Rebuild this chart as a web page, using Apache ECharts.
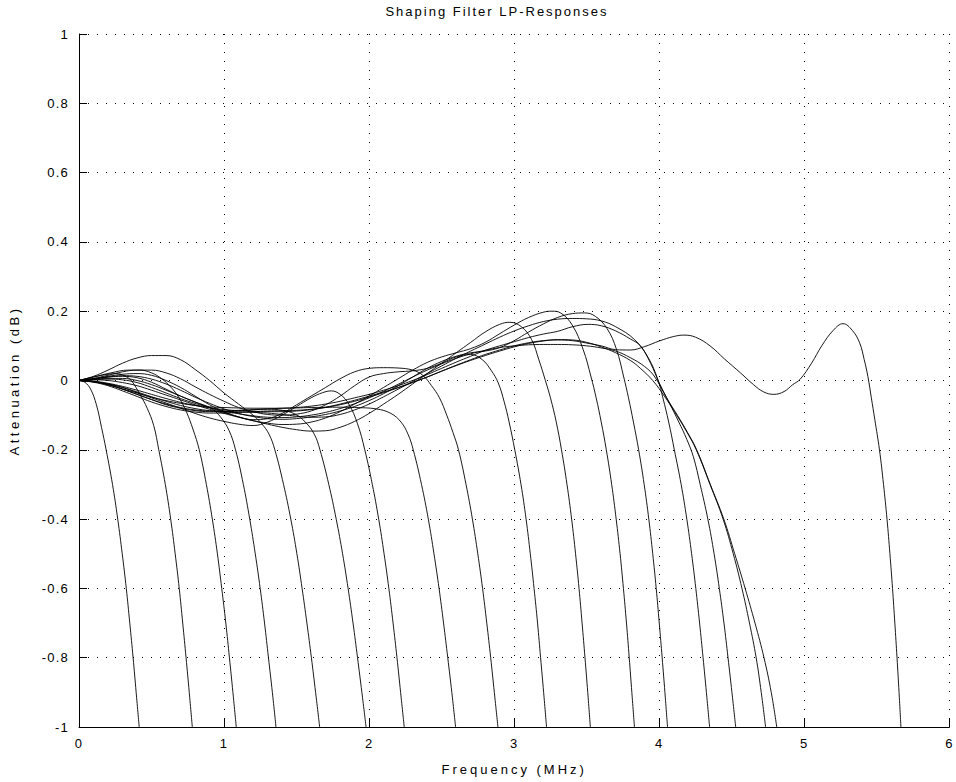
<!DOCTYPE html>
<html>
<head>
<meta charset="utf-8">
<script src="https://cdn.jsdelivr.net/npm/echarts@6/dist/echarts.min.js"></script>
<style>
html,body{margin:0;padding:0;background:#fff;}
#chart{width:956px;height:782px;}
</style>
</head>
<body>
<div id="chart"></div>
<script>
// Axis ticks
const xTicks = [0, 1, 2, 3, 4, 5, 6];
const yTicks = [-1, -0.8, -0.6, -0.4, -0.2, 0, 0.2, 0.4, 0.6, 0.8, 1];

// Curves: [frequency MHz, attenuation dB]
const c1 = [[0,0],[0.04,-0.005],[0.08,-0.025],[0.12,-0.07],[0.155,-0.135],[0.187,-0.2],[0.231,-0.3],[0.267,-0.4],[0.298,-0.5],[0.326,-0.6],[0.35,-0.7],[0.373,-0.8],[0.394,-0.9],[0.415,-1.0]];
const c2 = [[0,0],[0.1,0.01],[0.2,0.018],[0.26,0.02],[0.32,0.012],[0.36,0.0],[0.42,-0.04],[0.47,-0.08],[0.515,-0.13],[0.55,-0.2],[0.595,-0.3],[0.632,-0.4],[0.663,-0.5],[0.691,-0.6],[0.715,-0.7],[0.738,-0.8],[0.76,-0.9],[0.781,-1.0]];
const c3 = [[0,0],[0.1,0.01],[0.22,0.022],[0.34,0.03],[0.42,0.03],[0.5,0.022],[0.57,0.005],[0.635,-0.02],[0.69,-0.05],[0.74,-0.09],[0.785,-0.14],[0.829,-0.2],[0.878,-0.3],[0.919,-0.4],[0.954,-0.5],[0.984,-0.6],[1.012,-0.7],[1.037,-0.8],[1.061,-0.9],[1.084,-1.0]];
const c4 = [[0,0],[0.1,0.005],[0.2,0.01],[0.3,0.012],[0.4,0.008],[0.5,-0.005],[0.6,-0.025],[0.7,-0.045],[0.8,-0.062],[0.91,-0.08],[0.975,-0.105],[1.035,-0.145],[1.079,-0.2],[1.133,-0.3],[1.177,-0.4],[1.215,-0.5],[1.249,-0.6],[1.279,-0.7],[1.306,-0.8],[1.333,-0.9],[1.358,-1.0]];
const c5 = [[0,0],[0.1,0.012],[0.2,0.03],[0.3,0.05],[0.4,0.065],[0.5,0.072],[0.6,0.072],[0.7,0.06],[0.8,0.032],[0.9,0.0],[1.0,-0.036],[1.1,-0.068],[1.2,-0.1],[1.26,-0.125],[1.31,-0.155],[1.35,-0.2],[1.41,-0.3],[1.46,-0.4],[1.502,-0.5],[1.538,-0.6],[1.571,-0.7],[1.602,-0.8],[1.631,-0.9],[1.659,-1.0]];
const c6 = [[0,0],[0.1,-0.004],[0.2,-0.012],[0.3,-0.025],[0.4,-0.04],[0.5,-0.055],[0.6,-0.07],[0.7,-0.08],[0.8,-0.087],[0.9,-0.09],[1.0,-0.09],[1.1,-0.088],[1.2,-0.085],[1.3,-0.083],[1.4,-0.086],[1.49,-0.097],[1.56,-0.12],[1.622,-0.155],[1.661,-0.2],[1.722,-0.3],[1.773,-0.4],[1.817,-0.5],[1.855,-0.6],[1.889,-0.7],[1.92,-0.8],[1.95,-0.9],[1.979,-1.0]];
const c7 = [[0,0],[0.1,-0.003],[0.2,-0.01],[0.3,-0.02],[0.4,-0.035],[0.5,-0.05],[0.6,-0.065],[0.7,-0.08],[0.8,-0.095],[0.9,-0.108],[1.0,-0.118],[1.1,-0.126],[1.2,-0.13],[1.3,-0.12],[1.4,-0.1],[1.5,-0.075],[1.6,-0.05],[1.68,-0.035],[1.74,-0.03],[1.8,-0.04],[1.86,-0.068],[1.92,-0.125],[1.97,-0.2],[2.022,-0.3],[2.066,-0.4],[2.103,-0.5],[2.136,-0.6],[2.165,-0.7],[2.192,-0.8],[2.217,-0.9],[2.242,-1.0]];
const c8 = [[0,0],[0.1,-0.004],[0.2,-0.012],[0.3,-0.024],[0.4,-0.036],[0.5,-0.048],[0.6,-0.058],[0.7,-0.066],[0.8,-0.072],[0.9,-0.076],[1.0,-0.078],[1.2,-0.08],[1.4,-0.08],[1.6,-0.078],[1.8,-0.077],[1.9,-0.078],[2.05,-0.082],[2.15,-0.095],[2.22,-0.12],[2.268,-0.155],[2.304,-0.2],[2.361,-0.3],[2.408,-0.4],[2.447,-0.5],[2.482,-0.6],[2.513,-0.7],[2.542,-0.8],[2.57,-0.9],[2.596,-1.0]];
const c9 = [[0,0],[0.1,0.005],[0.2,0.012],[0.3,0.018],[0.4,0.02],[0.5,0.015],[0.6,0.0],[0.7,-0.02],[0.8,-0.045],[0.9,-0.07],[1.0,-0.09],[1.1,-0.105],[1.2,-0.113],[1.3,-0.11],[1.4,-0.095],[1.5,-0.07],[1.6,-0.045],[1.7,-0.02],[1.8,0.005],[1.9,0.025],[2.0,0.035],[2.1,0.037],[2.2,0.036],[2.3,0.03],[2.37,0.015],[2.43,-0.015],[2.485,-0.05],[2.535,-0.1],[2.578,-0.15],[2.616,-0.2],[2.668,-0.3],[2.712,-0.4],[2.749,-0.5],[2.782,-0.6],[2.811,-0.7],[2.838,-0.8],[2.863,-0.9],[2.888,-1.0]];
const c10 = [[0,0],[0.1,0.006],[0.2,0.015],[0.3,0.025],[0.4,0.03],[0.5,0.03],[0.6,0.022],[0.7,0.005],[0.8,-0.018],[0.9,-0.04],[1.0,-0.06],[1.1,-0.078],[1.2,-0.09],[1.3,-0.098],[1.4,-0.1],[1.5,-0.097],[1.6,-0.088],[1.7,-0.07],[1.8,-0.045],[1.9,-0.015],[2.0,0.01],[2.1,0.02],[2.2,0.025],[2.3,0.028],[2.4,0.035],[2.5,0.05],[2.6,0.068],[2.7,0.075],[2.78,0.06],[2.84,0.03],[2.89,-0.007],[2.93,-0.06],[2.965,-0.12],[3.004,-0.2],[3.047,-0.3],[3.082,-0.4],[3.111,-0.5],[3.137,-0.6],[3.161,-0.7],[3.182,-0.8],[3.203,-0.9],[3.223,-1.0]];
const c11 = [[0,0],[0.1,0.003],[0.2,0.006],[0.3,0.006],[0.4,0.0],[0.5,-0.012],[0.6,-0.028],[0.7,-0.045],[0.8,-0.062],[0.9,-0.078],[1.0,-0.092],[1.1,-0.105],[1.2,-0.116],[1.3,-0.126],[1.4,-0.135],[1.5,-0.142],[1.6,-0.146],[1.7,-0.145],[1.8,-0.135],[1.9,-0.118],[2.0,-0.095],[2.1,-0.068],[2.2,-0.04],[2.3,-0.01],[2.4,0.02],[2.5,0.05],[2.6,0.08],[2.7,0.11],[2.8,0.14],[2.9,0.162],[2.97,0.168],[3.05,0.155],[3.12,0.118],[3.17,0.06],[3.215,0.0],[3.25,-0.05],[3.29,-0.12],[3.326,-0.2],[3.364,-0.3],[3.396,-0.4],[3.423,-0.5],[3.447,-0.6],[3.468,-0.7],[3.488,-0.8],[3.507,-0.9],[3.525,-1.0]];
const c12 = [[0,0],[0.1,0.002],[0.2,0.0],[0.3,-0.006],[0.4,-0.015],[0.5,-0.028],[0.6,-0.042],[0.7,-0.056],[0.8,-0.07],[0.9,-0.083],[1.0,-0.095],[1.1,-0.106],[1.2,-0.116],[1.3,-0.123],[1.4,-0.127],[1.5,-0.126],[1.6,-0.12],[1.7,-0.108],[1.8,-0.09],[1.9,-0.068],[2.0,-0.045],[2.1,-0.02],[2.2,0.005],[2.3,0.03],[2.4,0.052],[2.5,0.068],[2.6,0.08],[2.7,0.092],[2.8,0.11],[2.9,0.135],[3.0,0.16],[3.1,0.182],[3.2,0.197],[3.26,0.2],[3.32,0.195],[3.4,0.16],[3.475,0.09],[3.53,0.01],[3.565,-0.05],[3.6,-0.12],[3.635,-0.2],[3.672,-0.3],[3.703,-0.4],[3.73,-0.5],[3.753,-0.6],[3.774,-0.7],[3.793,-0.8],[3.811,-0.9],[3.829,-1.0]];
const c13 = [[0,0],[0.1,0.004],[0.2,0.01],[0.3,0.014],[0.4,0.012],[0.5,0.004],[0.6,-0.01],[0.7,-0.028],[0.8,-0.048],[0.9,-0.066],[1.0,-0.082],[1.1,-0.095],[1.2,-0.104],[1.3,-0.11],[1.4,-0.112],[1.5,-0.11],[1.6,-0.105],[1.7,-0.098],[1.8,-0.088],[1.9,-0.075],[2.0,-0.058],[2.1,-0.038],[2.2,-0.015],[2.3,0.01],[2.4,0.035],[2.5,0.055],[2.6,0.07],[2.7,0.08],[2.8,0.085],[2.9,0.095],[3.0,0.115],[3.1,0.14],[3.2,0.163],[3.3,0.182],[3.4,0.193],[3.486,0.195],[3.56,0.185],[3.64,0.15],[3.705,0.09],[3.755,0.01],[3.788,-0.05],[3.822,-0.12],[3.858,-0.2],[3.896,-0.3],[3.928,-0.4],[3.955,-0.5],[3.979,-0.6],[4.0,-0.7],[4.02,-0.8],[4.039,-0.9],[4.057,-1.0]];
const c14 = [[0,0],[0.1,-0.003],[0.2,-0.01],[0.3,-0.02],[0.4,-0.033],[0.5,-0.047],[0.6,-0.06],[0.7,-0.072],[0.8,-0.081],[0.9,-0.087],[1.0,-0.09],[1.1,-0.091],[1.2,-0.092],[1.3,-0.094],[1.4,-0.098],[1.5,-0.103],[1.6,-0.106],[1.7,-0.105],[1.8,-0.098],[1.9,-0.085],[2.0,-0.068],[2.1,-0.047],[2.2,-0.025],[2.3,-0.003],[2.4,0.02],[2.5,0.042],[2.6,0.064],[2.7,0.085],[2.8,0.105],[2.9,0.125],[3.0,0.143],[3.1,0.158],[3.2,0.17],[3.3,0.177],[3.4,0.179],[3.5,0.178],[3.6,0.172],[3.7,0.155],[3.83,0.118],[3.925,0.065],[3.99,0.003],[4.025,-0.05],[4.065,-0.12],[4.104,-0.2],[4.151,-0.3],[4.19,-0.4],[4.223,-0.5],[4.252,-0.6],[4.278,-0.7],[4.302,-0.8],[4.325,-0.9],[4.347,-1.0]];
const c15 = [[0,0],[0.1,-0.003],[0.2,-0.012],[0.3,-0.025],[0.4,-0.04],[0.5,-0.055],[0.6,-0.068],[0.7,-0.078],[0.8,-0.085],[0.9,-0.088],[1.0,-0.088],[1.1,-0.086],[1.2,-0.084],[1.3,-0.082],[1.4,-0.08],[1.5,-0.078],[1.6,-0.074],[1.7,-0.068],[1.8,-0.06],[1.9,-0.05],[2.0,-0.04],[2.1,-0.028],[2.2,-0.015],[2.3,0.0],[2.4,0.017],[2.5,0.035],[2.6,0.053],[2.7,0.07],[2.8,0.087],[2.9,0.1],[3.0,0.112],[3.1,0.124],[3.2,0.134],[3.3,0.142],[3.4,0.155],[3.51,0.162],[3.6,0.158],[3.7,0.143],[3.8,0.12],[3.87,0.1],[3.94,0.05],[4.0,-0.007],[4.07,-0.065],[4.135,-0.12],[4.19,-0.17],[4.235,-0.22],[4.282,-0.3],[4.335,-0.4],[4.378,-0.5],[4.414,-0.6],[4.446,-0.7],[4.474,-0.8],[4.501,-0.9],[4.527,-1.0]];
const c16 = [[0,0],[0.1,-0.005],[0.2,-0.015],[0.3,-0.03],[0.4,-0.046],[0.5,-0.062],[0.6,-0.075],[0.7,-0.085],[0.8,-0.091],[0.9,-0.094],[1.0,-0.094],[1.1,-0.092],[1.2,-0.09],[1.3,-0.088],[1.4,-0.087],[1.5,-0.086],[1.6,-0.083],[1.7,-0.077],[1.8,-0.068],[1.9,-0.057],[2.0,-0.045],[2.1,-0.033],[2.2,-0.02],[2.3,-0.005],[2.4,0.01],[2.5,0.027],[2.6,0.043],[2.7,0.058],[2.8,0.072],[2.9,0.085],[3.0,0.097],[3.1,0.107],[3.2,0.114],[3.3,0.118],[3.4,0.117],[3.5,0.11],[3.6,0.097],[3.7,0.08],[3.8,0.058],[3.87,0.035],[3.955,0.0],[4.035,-0.045],[4.105,-0.09],[4.185,-0.145],[4.255,-0.2],[4.35,-0.3],[4.44,-0.4],[4.51,-0.5],[4.57,-0.6],[4.622,-0.7],[4.668,-0.8],[4.703,-0.9],[4.733,-1.0]];
const c17 = [[0,0],[0.1,0.002],[0.2,0.004],[0.3,0.002],[0.4,-0.006],[0.5,-0.02],[0.6,-0.036],[0.7,-0.052],[0.8,-0.066],[0.9,-0.078],[1.0,-0.088],[1.1,-0.096],[1.2,-0.102],[1.3,-0.106],[1.4,-0.107],[1.5,-0.105],[1.6,-0.1],[1.7,-0.092],[1.8,-0.081],[1.9,-0.067],[2.0,-0.05],[2.1,-0.031],[2.2,-0.011],[2.3,0.01],[2.4,0.03],[2.5,0.048],[2.6,0.064],[2.7,0.077],[2.8,0.087],[2.9,0.095],[3.0,0.1],[3.1,0.103],[3.2,0.104],[3.3,0.104],[3.4,0.103],[3.5,0.1],[3.6,0.094],[3.7,0.085],[3.8,0.066],[3.9,0.04],[3.97,0.01],[4.05,-0.05],[4.125,-0.1],[4.195,-0.15],[4.258,-0.2],[4.352,-0.3],[4.445,-0.4],[4.52,-0.5],[4.592,-0.6],[4.66,-0.7],[4.722,-0.8],[4.772,-0.9],[4.81,-1.0]];
const c18 = [[0,0],[0.1,-0.002],[0.2,-0.008],[0.3,-0.017],[0.4,-0.028],[0.5,-0.04],[0.6,-0.052],[0.7,-0.063],[0.8,-0.072],[0.9,-0.079],[1.0,-0.084],[1.1,-0.087],[1.2,-0.089],[1.3,-0.09],[1.4,-0.09],[1.5,-0.088],[1.6,-0.084],[1.7,-0.078],[1.8,-0.07],[1.9,-0.06],[2.0,-0.048],[2.1,-0.035],[2.2,-0.021],[2.3,-0.006],[2.4,0.01],[2.5,0.027],[2.6,0.044],[2.7,0.06],[2.8,0.075],[2.9,0.088],[3.0,0.1],[3.1,0.109],[3.2,0.115],[3.3,0.117],[3.4,0.115],[3.5,0.108],[3.6,0.1],[3.7,0.089],[3.8,0.088],[3.9,0.098],[4.0,0.114],[4.1,0.127],[4.17,0.131],[4.25,0.125],[4.35,0.1],[4.45,0.062],[4.56,0.022],[4.65,-0.012],[4.72,-0.033],[4.79,-0.04],[4.86,-0.032],[4.92,-0.012],[4.97,0.003],[5.05,0.05],[5.12,0.1],[5.2,0.145],[5.267,0.164],[5.33,0.145],[5.381,0.109],[5.413,0.06],[5.438,0.012],[5.462,-0.05],[5.486,-0.113],[5.518,-0.2],[5.546,-0.3],[5.57,-0.4],[5.59,-0.5],[5.608,-0.6],[5.624,-0.7],[5.639,-0.8],[5.653,-0.9],[5.666,-1.0]];

const curves = [c1,c2,c3,c4,c5,c6,c7,c8,c9,c10,c11,c12,c13,c14,c15,c16,c17,c18];

const FONT = 'Liberation Sans, Arial, Helvetica, sans-serif';
const chart = echarts.init(document.getElementById('chart'), null, {renderer: 'svg'});

const series = curves.map(function (d, i) {
  return {
    type: 'line',
    name: 'r' + (i + 1),
    data: d,
    showSymbol: false,
    symbol: 'none',
    smooth: 0.4,
    clip: true,
    silent: true,
    lineStyle: {color: '#000', width: 0.9},
    z: 5
  };
});

chart.setOption({
  animation: false,
  backgroundColor: '#fff',
  title: {
    text: 'Shaping Filter LP-Responses',
    left: 497, top: 5, padding: 0, textAlign: 'center',
    textStyle: {fontFamily: FONT, fontSize: 13, fontWeight: 'normal', color: '#000'}
  },
  grid: {left: 78, right: 3, top: 34, bottom: 55, containLabel: false},
  xAxis: {
    type: 'value', min: xTicks[0], max: xTicks[xTicks.length - 1], interval: 1,
    name: 'Frequency (MHz)', nameLocation: 'middle', nameGap: 36,
    nameTextStyle: {fontFamily: FONT, fontSize: 13, color: '#000'},
    axisLine: {show: true, onZero: false, lineStyle: {color: '#000', width: 1}},
    axisTick: {show: true, inside: true, length: 8, lineStyle: {color: '#000', width: 1}},
    axisLabel: {fontFamily: FONT, fontSize: 13, color: '#000', margin: 10},
    splitLine: {show: true, lineStyle: {color: '#000', width: 1, type: [1, 8]}}
  },
  yAxis: {
    type: 'value', min: yTicks[0], max: yTicks[yTicks.length - 1], interval: 0.2,
    name: 'Attenuation (dB)', nameLocation: 'middle', nameGap: 58, nameRotate: 90,
    nameTextStyle: {fontFamily: FONT, fontSize: 13, color: '#000'},
    axisLine: {show: true, onZero: false, lineStyle: {color: '#000', width: 1}},
    axisTick: {show: true, inside: true, length: 8, lineStyle: {color: '#000', width: 1}},
    axisLabel: {fontFamily: FONT, fontSize: 13, color: '#000', margin: 10,
      formatter: function (v) { return String(Math.round(v * 10) / 10); }},
    splitLine: {show: true, lineStyle: {color: '#000', width: 1, type: [1, 8]}}
  },
  series: series
});

// Widen text tracking to match the reference typography
function spaceText() {
  const texts = document.querySelectorAll('#chart svg text');
  texts.forEach(function (t) {
    const s = t.textContent || '';
    if (/^-?[0-9.]+$/.test(s)) {
      t.style.letterSpacing = '1.2px';
    } else if (s.indexOf('Shaping') === 0) {
      t.style.letterSpacing = '2px';
    } else if (s.indexOf('Atten') === 0) {
      t.style.letterSpacing = '3.5px';
    } else {
      t.style.letterSpacing = '3px';
    }
  });
}
try { chart.getZr().refreshImmediately(); } catch (e) {}
spaceText();
chart.on('finished', spaceText);
</script>
</body>
</html>
